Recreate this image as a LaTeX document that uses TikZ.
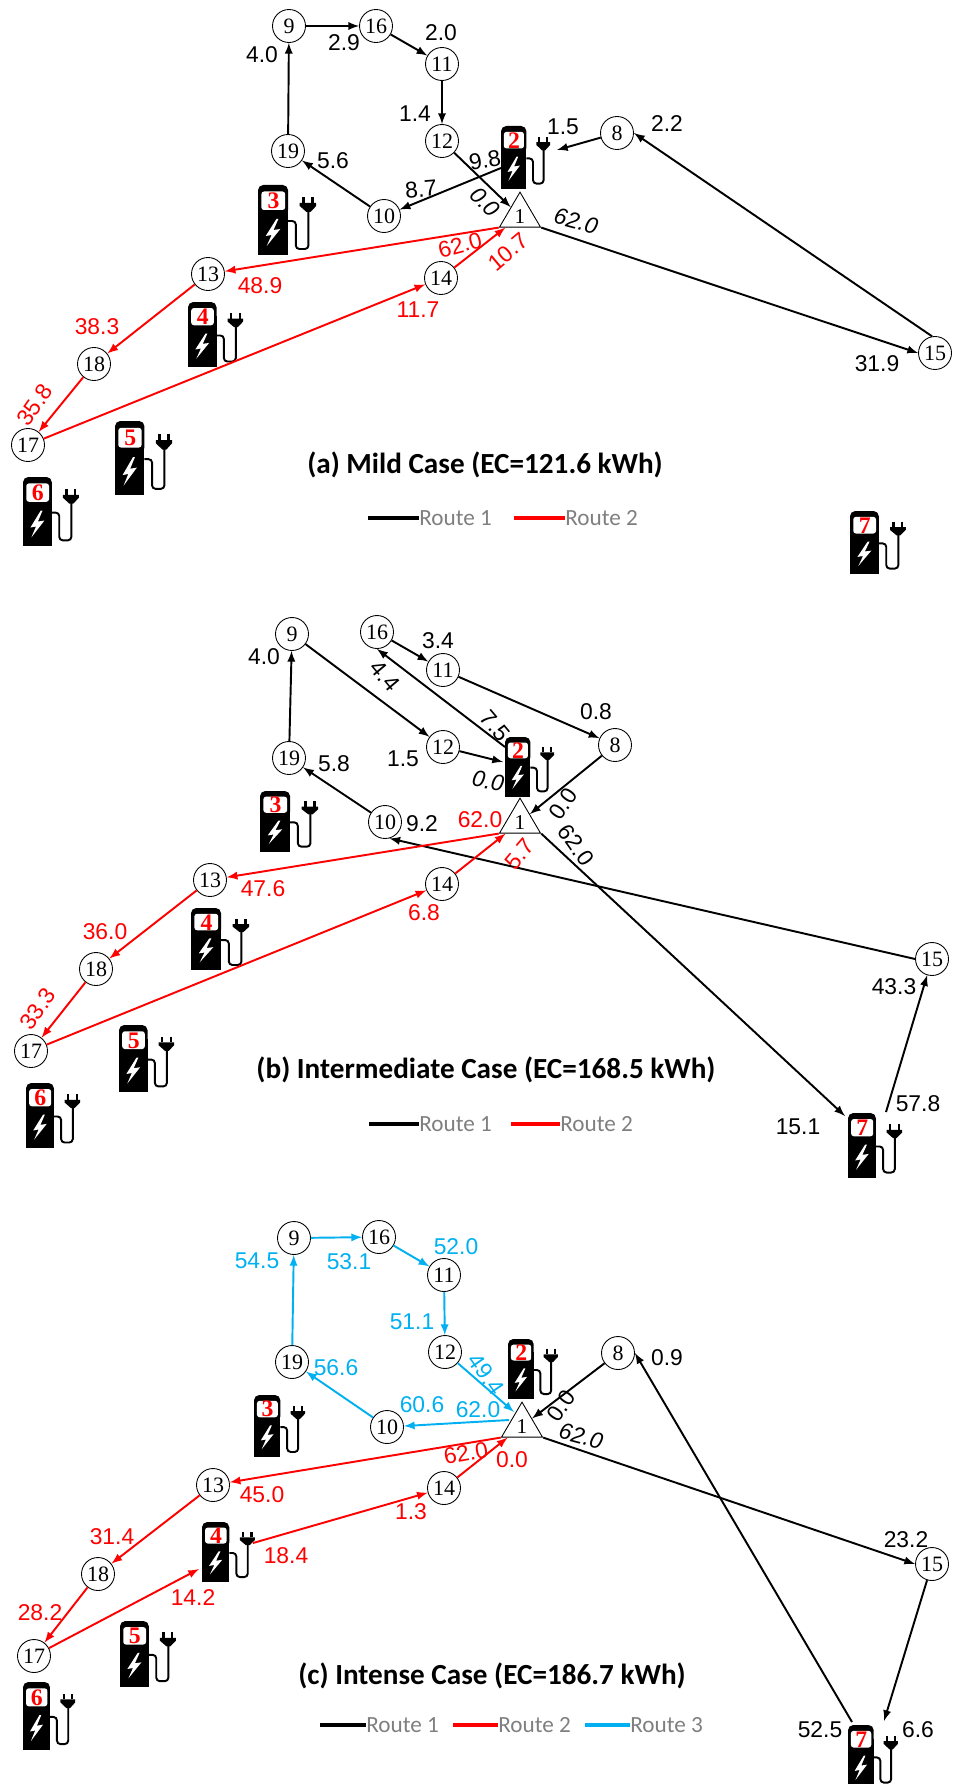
\documentclass[tikz,border=0pt]{standalone}
\usepackage{fontspec}
\setmainfont{Liberation Serif}
\newfontfamily\lblfont{Liberation Sans}
\newfontfamily\capfont{Carlito}
\usetikzlibrary{shapes.geometric}
\definecolor{routeblue}{HTML}{00B0F0}
\definecolor{legendgray}{HTML}{7F7F7F}
\tikzset{
  stopnode/.style={draw,circle,fill=white,minimum size=0.66cm,inner sep=0pt,line width=0.5pt,font=\fontsize{12.5}{12.5}\selectfont},
  depotnode/.style={draw,isosceles triangle,isosceles triangle stretches,shape border rotate=90,minimum width=0.82cm,minimum height=0.7cm,inner sep=0pt,line width=0.5pt,fill=white,font=\fontsize{12}{12}\selectfont},
  lbl/.style={inner sep=0pt,font=\lblfont\fontsize{13}{13}\selectfont},
  lblit/.style={inner sep=0pt,font=\lblfont\itshape\fontsize{13}{13}\selectfont},
  casetitle/.style={inner sep=0pt,font=\capfont\bfseries\fontsize{16.6}{16.6}\selectfont},
  legendtext/.style={inner sep=0pt,anchor=west,text=legendgray,font=\capfont\fontsize{13.2}{13.2}\selectfont},
  route1/.style={draw=black,line width=1.1pt,->},
  route2/.style={draw=red,line width=1.1pt,->},
  route3/.style={draw=routeblue,line width=1.1pt,->},
  legendline/.style={line width=2.8pt},
  pics/charger/.style={code={
    \fill[rounded corners=3pt] (0,0) rectangle (31,30);
    \fill (0,15) rectangle (31,70);
    \fill[white,rounded corners=1.5pt] (3.5,6.5) rectangle (28,25);
    \fill[white] (19,34) -- (8,51) -- (14,50) -- (9,61) -- (23,44) -- (16,45) -- (21,34) -- cycle;
    \draw[line width=1.1pt,rounded corners=2pt] (31,36) -- (39,36) -- (39,64) -- (52,64) -- (52,26);
    \fill (43,18) -- (60,18) -- (60,21) -- (54,27) -- (50,27) -- (43,21) -- cycle;
    \fill (45.5,12) rectangle (48,18);
    \fill (55,12) rectangle (57.5,18);
    \node[inner sep=0pt,text=red,font=\bfseries\fontsize{13.5}{13.5}\selectfont] (-num) at (16,16) {#1};
  }},
}
\begin{document}
\begin{tikzpicture}[x=0.02cm,y=-0.02cm,>=latex]
    \useasboundingbox (0,0) rectangle (953,1784);
    % (a) mild case
    \pic[xscale=0.82,yscale=0.9] (a2) at (501,126) {charger=2};
    \pic[xscale=0.97,yscale=1.0] (a3) at (258,185) {charger=3};
    \pic[xscale=0.92,yscale=0.93] (a4) at (188,302) {charger=4};
    \pic[xscale=0.95,yscale=1.06] (a5) at (115,421) {charger=5};
    \pic[xscale=0.93,yscale=0.99] (a6) at (23,477) {charger=6};
    \pic[xscale=0.93,yscale=0.9] (a7) at (850,511) {charger=7};
    \node[depotnode,anchor=apex] (a1) at (520,191) {1};
    \node[stopnode] (a8) at (617,133) {8};
    \node[stopnode] (a9) at (289,26) {9};
    \node[stopnode] (a10) at (384,216) {10};
    \node[stopnode] (a11) at (442,64) {11};
    \node[stopnode] (a12) at (442,141) {12};
    \node[stopnode] (a13) at (208,274) {13};
    \node[stopnode] (a14) at (441,278) {14};
    \node[stopnode] (a15) at (935,353) {15};
    \node[stopnode] (a16) at (376,26) {16};
    \node[stopnode] (a17) at (28,445) {17};
    \node[stopnode] (a18) at (94,364) {18};
    \node[stopnode] (a19) at (288,151) {19};
    \coordinate (a2in) at (557,150);
    \coordinate (a2out) at (501,168);
    \draw[route1] (a9) -- (a16);
    \draw[route1] (a16) -- (a11);
    \draw[route1] (a11) -- (a12);
    \draw[route1] (a12) -- (a1);
    \draw[route1] (a2out) -- (a10);
    \draw[route1] (a10) -- (a19);
    \draw[route1] (a19) -- (a9);
    \draw[route1] (a8) -- (a2in);
    \draw[route1] (a15.100) -- (a8.east);
    \draw[route1] (a1.right corner) -- (a15.west);
    \draw[route2] (a1.left corner) -- (a13);
    \draw[route2] (a13) -- (a18);
    \draw[route2] (a18) -- (a17);
    \draw[route2] (a17) -- (a14);
    \draw[route2] (a14) -- (a1);
    \node[lbl] (al1) at (262,55) {4.0};
    \node[lbl] (al2) at (344,43) {2.9};
    \node[lbl] (al3) at (441,33) {2.0};
    \node[lbl] (al4) at (415,114) {1.4};
    \node[lbl] (al5) at (333,161) {5.6};
    \node[lbl,rotate=10] (al6) at (485,160) {9.8};
    \node[lbl,rotate=5] (al7) at (421,189) {8.7};
    \node[lblit,rotate=-45] (al8) at (485,202) {0.0};
    \node[lbl] (al9) at (563,127) {1.5};
    \node[lbl] (al10) at (667,124) {2.2};
    \node[lblit,rotate=-15] (al11) at (576,221) {62.0};
    \node[lbl] (al12) at (877,364) {31.9};
    \node[lbl,red,rotate=15] (al13) at (460,245) {62.0};
    \node[lbl,red,rotate=40] (al14) at (508,252) {10.7};
    \node[lbl,red] (al15) at (260,286) {48.9};
    \node[lbl,red] (al16) at (418,310) {11.7};
    \node[lbl,red] (al17) at (97,327) {38.3};
    \node[lbl,red,rotate=55] (al18) at (35,405) {35.8};
    \node[casetitle] (atitle) at (485,465) {(a) Mild Case (EC=121.6 kWh)};
    \node[legendtext] (aleg1) at (419,518) {Route 1};
    \node[legendtext] (aleg2) at (565,518) {Route 2};
    \coordinate (aleg1s) at (368,518);
    \coordinate (aleg2s) at (514,518);
    \draw[legendline,black] (aleg1s) -- (aleg1.west);
    \draw[legendline,red] (aleg2s) -- (aleg2.west);
    % (b) intermediate case
    \pic[xscale=0.82,yscale=0.85] (b2) at (505,737) {charger=2};
    \pic[xscale=0.97,yscale=0.87] (b3) at (260,791) {charger=3};
    \pic[xscale=0.97,yscale=0.89] (b4) at (191,908) {charger=4};
    \pic[xscale=0.92,yscale=0.96] (b5) at (119,1025) {charger=5};
    \pic[xscale=0.9,yscale=0.93] (b6) at (26,1083) {charger=6};
    \pic[xscale=0.9,yscale=0.93] (b7) at (848,1113) {charger=7};
    \node[depotnode,anchor=apex] (b1) at (520,797) {1};
    \node[stopnode] (b8) at (615,745) {8};
    \node[stopnode] (b9) at (292,634) {9};
    \node[stopnode] (b10) at (385,822) {10};
    \node[stopnode] (b11) at (443,670) {11};
    \node[stopnode] (b12) at (443,747) {12};
    \node[stopnode] (b13) at (210,880) {13};
    \node[stopnode] (b14) at (442,884) {14};
    \node[stopnode] (b15) at (932,959) {15};
    \node[stopnode] (b16) at (377,632) {16};
    \node[stopnode] (b17) at (31,1051) {17};
    \node[stopnode] (b18) at (96,969) {18};
    \node[stopnode] (b19) at (289,758) {19};
    \coordinate (b2in) at (503,762);
    \coordinate (b2out) at (505,747);
    \coordinate (b7in) at (845,1116);
    \coordinate (b7out) at (886,1112);
    \draw[route1] (b19) -- (b9);
    \draw[route1] (b9) -- (b12);
    \draw[route1] (b12) -- (b2in);
    \draw[route1] (b2out) -- (b16.south);
    \draw[route1] (b16) -- (b11);
    \draw[route1] (b11) -- (b8);
    \draw[route1] (b8) -- (b1);
    \draw[route1] (b1.right corner) -- (b7in);
    \draw[route1] (b7out) -- (b15);
    \draw[route1] (b15.west) -- (b10.-75);
    \draw[route1] (b10) -- (b19);
    \draw[route2] (b1.left corner) -- (b13);
    \draw[route2] (b13) -- (b18);
    \draw[route2] (b18) -- (b17);
    \draw[route2] (b17) -- (b14);
    \draw[route2] (b14) -- (b1);
    \node[lbl] (bl1) at (264,657) {4.0};
    \node[lbl] (bl2) at (438,641) {3.4};
    \node[lbl,rotate=-50] (bl3) at (385,676) {4.4};
    \node[lbl,rotate=-50] (bl4) at (495,726) {7.5};
    \node[lbl] (bl5) at (596,712) {0.8};
    \node[lbl] (bl6) at (403,759) {1.5};
    \node[lbl] (bl7) at (334,764) {5.8};
    \node[lblit,rotate=-10] (bl8) at (488,781) {0.0};
    \node[lbl,rotate=55] (bl9) at (563,804) {0.0};
    \node[lbl,rotate=-55] (bl10) at (576,845) {62.0};
    \node[lbl] (bl11) at (422,824) {9.2};
    \node[lbl] (bl12) at (894,987) {43.3};
    \node[lbl] (bl13) at (918,1104) {57.8};
    \node[lbl] (bl14) at (798,1127) {15.1};
    \node[lbl,red] (bl15) at (480,820) {62.0};
    \node[lbl,red,rotate=50] (bl16) at (520,854) {5.7};
    \node[lbl,red] (bl17) at (263,889) {47.6};
    \node[lbl,red] (bl18) at (424,913) {6.8};
    \node[lbl,red] (bl19) at (105,932) {36.0};
    \node[lbl,red,rotate=55] (bl20) at (38,1009) {33.3};
    \node[casetitle] (btitle) at (486,1070) {(b) Intermediate Case (EC=168.5 kWh)};
    \node[legendtext] (bleg1) at (419,1124) {Route 1};
    \node[legendtext] (bleg2) at (560,1124) {Route 2};
    \coordinate (bleg1s) at (369,1124);
    \coordinate (bleg2s) at (511,1124);
    \draw[legendline,black] (bleg1s) -- (bleg1.west);
    \draw[legendline,red] (bleg2s) -- (bleg2.west);
    % (c) intense case
    \pic[xscale=0.83,yscale=0.86] (c2) at (508,1339) {charger=2};
    \pic[xscale=0.85,yscale=0.89] (c3) at (254,1395) {charger=3};
    \pic[xscale=0.88,yscale=0.86] (c4) at (202,1522) {charger=4};
    \pic[xscale=0.93,yscale=0.94] (c5) at (120,1621) {charger=5};
    \pic[xscale=0.87,yscale=0.97] (c6) at (23,1682) {charger=6};
    \pic[xscale=0.83,yscale=0.9] (c7) at (848,1725) {charger=7};
    \node[depotnode,anchor=apex] (c1) at (522,1401) {1};
    \node[stopnode] (c8) at (618,1353) {8};
    \node[stopnode] (c9) at (294,1238) {9};
    \node[stopnode] (c10) at (387,1427) {10};
    \node[stopnode] (c11) at (444,1275) {11};
    \node[stopnode] (c12) at (445,1352) {12};
    \node[stopnode] (c13) at (213,1485) {13};
    \node[stopnode] (c14) at (444,1488) {14};
    \node[stopnode] (c15) at (932,1564) {15};
    \node[stopnode] (c16) at (379,1237) {16};
    \node[stopnode] (c17) at (34,1656) {17};
    \node[stopnode] (c18) at (98,1574) {18};
    \node[stopnode] (c19) at (292,1362) {19};
    \coordinate (c1in) at (514,1412);
    \coordinate (c1out) at (509,1420);
    \coordinate (c4in) at (199,1569);
    \coordinate (c4out) at (253,1543);
    \coordinate (c7in) at (884,1721);
    \coordinate (c7out) at (852,1722);
    \draw[route3] (c1out) -- (c10);
    \draw[route3] (c10) -- (c19);
    \draw[route3] (c19) -- (c9);
    \draw[route3] (c9) -- (c16);
    \draw[route3] (c16) -- (c11);
    \draw[route3] (c11) -- (c12);
    \draw[route3] (c12) -- (c1in);
    \draw[route1] (c1.right corner) -- (c15.west);
    \draw[route1] (c15) -- (c7in);
    \draw[route1] (c7out) -- (c8.east);
    \draw[route1] (c8) -- (c1);
    \draw[route2] (c1.left corner) -- (c13);
    \draw[route2] (c13) -- (c18);
    \draw[route2] (c18) -- (c17);
    \draw[route2] (c17) -- (c4in);
    \draw[route2] (c4out) -- (c14);
    \draw[route2] (c14) -- (c1);
    \node[lbl,routeblue] (cl1) at (257,1261) {54.5};
    \node[lbl,routeblue] (cl2) at (349,1262) {53.1};
    \node[lbl,routeblue] (cl3) at (456,1247) {52.0};
    \node[lbl,routeblue] (cl4) at (412,1322) {51.1};
    \node[lbl,routeblue] (cl5) at (336,1368) {56.6};
    \node[lbl,routeblue,rotate=-55] (cl6) at (486,1374) {49.4};
    \node[lbl,routeblue] (cl7) at (422,1405) {60.6};
    \node[lbl,routeblue] (cl8) at (478,1410) {62.0};
    \node[lbl,rotate=55] (cl9) at (561,1406) {0.0};
    \node[lblit,rotate=-15] (cl10) at (581,1436) {62.0};
    \node[lbl] (cl11) at (667,1358) {0.9};
    \node[lbl] (cl12) at (906,1540) {23.2};
    \node[lbl] (cl13) at (820,1730) {52.5};
    \node[lbl] (cl14) at (918,1730) {6.6};
    \node[lbl,red,rotate=10] (cl15) at (466,1453) {62.0};
    \node[lbl,red] (cl16) at (512,1460) {0.0};
    \node[lbl,red] (cl17) at (262,1495) {45.0};
    \node[lbl,red] (cl18) at (411,1512) {1.3};
    \node[lbl,red] (cl19) at (112,1537) {31.4};
    \node[lbl,red] (cl20) at (286,1556) {18.4};
    \node[lbl,red] (cl21) at (193,1598) {14.2};
    \node[lbl,red] (cl22) at (40,1613) {28.2};
    \node[casetitle] (ctitle) at (492,1676) {(c) Intense Case (EC=186.7 kWh)};
    \node[legendtext] (cleg1) at (366,1725) {Route 1};
    \node[legendtext] (cleg2) at (498,1725) {Route 2};
    \node[legendtext] (cleg3) at (630,1725) {Route 3};
    \coordinate (cleg1s) at (320,1725);
    \coordinate (cleg2s) at (453,1725);
    \coordinate (cleg3s) at (585,1725);
    \draw[legendline,black] (cleg1s) -- (cleg1.west);
    \draw[legendline,red] (cleg2s) -- (cleg2.west);
    \draw[legendline,routeblue] (cleg3s) -- (cleg3.west);
\end{tikzpicture}
\end{document}
